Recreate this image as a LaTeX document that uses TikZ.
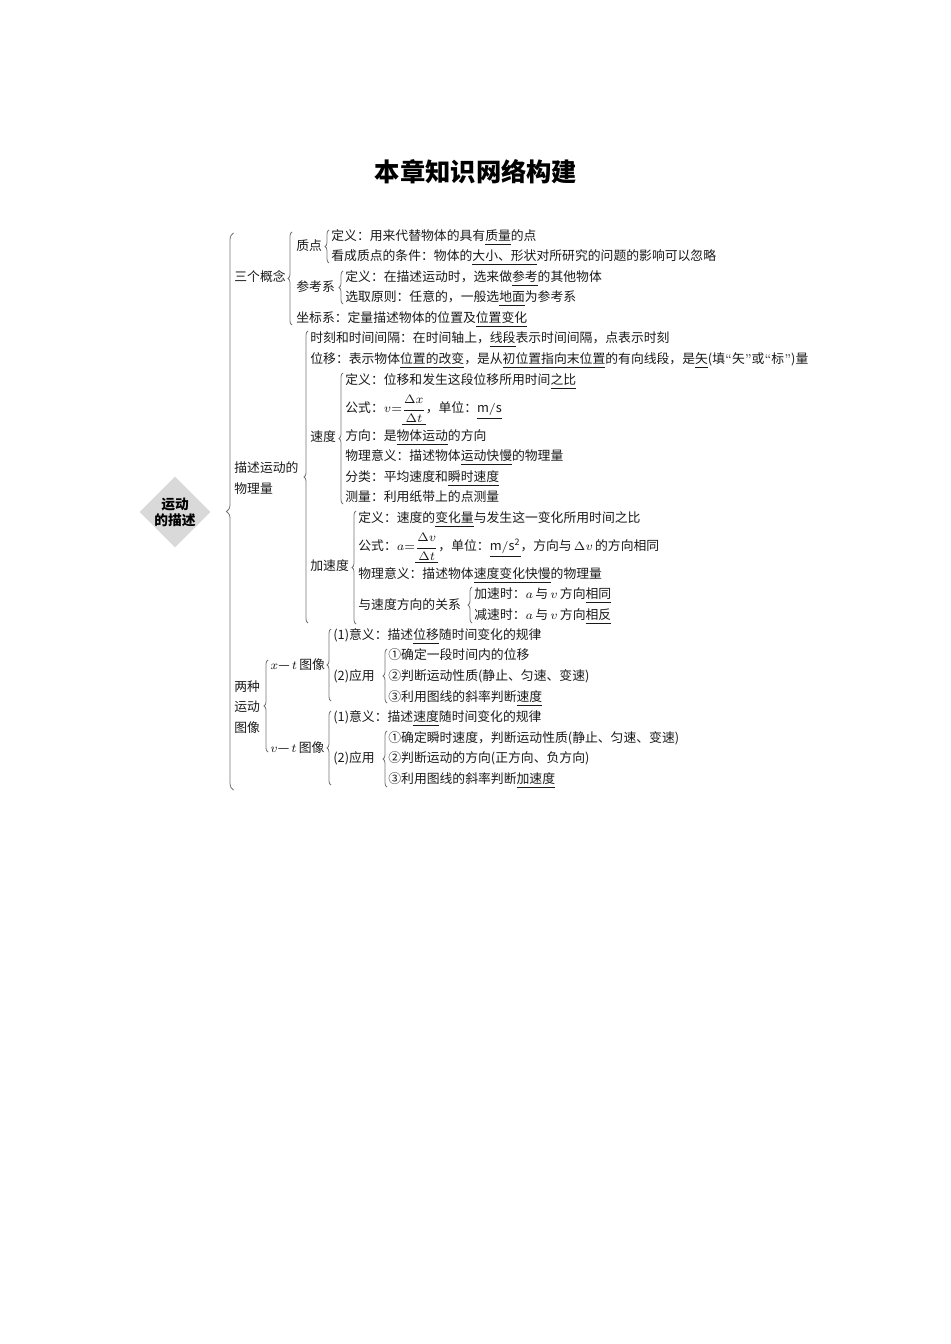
\documentclass[tikz,border=0pt]{standalone}
\usepackage{amsmath}
\usepackage{fontspec}
\setmainfont{Noto Sans CJK SC}
\newfontfamily\lmr{Latin Modern Roman}
\usepackage{tikz}
\usetikzlibrary{shapes.geometric, decorations.pathreplacing}

\newcommand{\ans}[1]{\underline{#1}}

\tikzset{
  item/.style={anchor=base west, yshift=-2.8pt, inner sep=0pt, text=black!90, font=\fontsize{7.3}{11.6}\selectfont},
  lines/.style={anchor=west, inner sep=0pt, align=left, text=black!90, font=\fontsize{7.3}{11.6}\selectfont},
  brc/.style={draw=black!55, line width=0.45pt, decorate, decoration={brace, amplitude=0.08cm}},
  bigbrc/.style={brc, decoration={brace, amplitude=0.14cm}},
}

\begin{document}
\begin{tikzpicture}[x=0.02cm, y=-0.02cm]

\useasboundingbox (0,0) rectangle (950,1344);

% Title
\node[font=\bfseries\fontsize{14.4}{16}\selectfont] (title) at (476,172) {本章知识网络构建};

% Root
\node[diamond, fill=black!15, minimum size=1.42cm, inner sep=0pt] (root) at (175,512) {};
\node[align=center, inner sep=0pt, font=\bfseries\fontsize{7.8}{9.2}\selectfont] (rootlabel) at (root.center) {运动\\的描述};

% Braces
\draw[bigbrc] (233.5,790) -- (233.5,233);
\draw[brc] (292,325) -- (292,232);
\draw[brc] (329,263) -- (329,230);
\draw[brc] (343,304) -- (343,271);
\draw[brc] (308,623) -- (308,331);
\draw[brc] (343,504) -- (343,373);
\draw[brc] (356,624) -- (356,511);
\draw[brc] (472,623) -- (472,587);
\draw[brc] (268,752) -- (268,660);
\draw[brc] (331,701) -- (331,629);
\draw[brc] (387,703) -- (387,649);
\draw[brc] (331,785) -- (331,711);
\draw[brc] (387,787) -- (387,731);

% Three concepts
\node[item] (sangai) at (234,277) {三个概念};
\node[item] (zhidian) at (296,246) {质点};
\node[item] (zd1) at (331,236) {定义：用来代替物体的具有\ans{质量}的点};
\node[item] (zd2) at (331,256) {看成质点的条件：物体的\ans{大小、形状}对所研究的问题的影响可以忽略};
\node[item] (cankao) at (296,287) {参考系};
\node[item] (ck1) at (345,277) {定义：在描述运动时，选来做\ans{参考}的其他物体};
\node[item] (ck2) at (345,297) {选取原则：任意的，一般选\ans{地面}为参考系};
\node[item] (zuobiao) at (296,318) {坐标系：定量描述物体的位置及\ans{位置变化}};

% Physical quantities
\node[lines] (wuliliang) at (234,478) {描述运动的\\物理量};
\node[item] (shike) at (310,338) {时刻和时间间隔：在时间轴上，\ans{线段}表示时间间隔，点表示时刻};
\node[item] (weiyi) at (310,359) {位移：表示物体\ans{位置的改变}，是从\ans{初位置指向末位置}的有向线段，是\ans{矢}(填{\lmr“}矢{\lmr”}或{\lmr“}标{\lmr”})量};
\node[item] (sudu) at (310,437) {速度};
\node[item] (sd1) at (345,380) {定义：位移和发生这段位移所用时间\ans{之比}};
\node[item] (sd2) at (345,408) {公式：$v{=}\underline{\dfrac{\Delta x}{\Delta t}}$，单位：\ans{$\mathrm{m/s}$}};
\node[item] (sd3) at (345,436) {方向：是\ans{物体运动}的方向};
\node[item] (sd4) at (345,456) {物理意义：描述物体\ans{运动快慢}的物理量};
\node[item] (sd5) at (345,477) {分类：平均速度和\ans{瞬时速度}};
\node[item] (sd6) at (345,497) {测量：利用纸带上的点测量};
\node[item] (jiasudu) at (310,566) {加速度};
\node[item] (jsd1) at (358,518) {定义：速度的\ans{变化量}与发生这一变化所用时间之比};
\node[item] (jsd2) at (358,546) {公式：$a{=}\underline{\dfrac{\Delta v}{\Delta t}}$，单位：\ans{$\mathrm{m/s^2}$}，方向与\,$\Delta v$\,的方向相同};
\node[item] (jsd3) at (358,574) {物理意义：描述物体\ans{速度变化快慢}的物理量};
\node[item] (guanxi) at (358,605) {与速度方向的关系};
\node[item] (gx1) at (474,594) {加速时：$a$\,与\,$v$\,方向\ans{相同}};
\node[item] (gx2) at (474,615) {减速时：$a$\,与\,$v$\,方向\ans{相反}};

% Two motion graphs
\node[lines] (tuxiang) at (234,707) {两种\\运动\\图像};
\node[item] (xt) at (270,665) {$x$—\,$t$\,图像};
\node[item] (xt1) at (333,635) {(1)意义：描述\ans{位移}随时间变化的规律};
\node[item] (xtyy) at (333,676) {(2)应用};
\node[item] (xt2a) at (388,655) {①确定一段时间内的位移};
\node[item] (xt2b) at (388,676) {②判断运动性质(静止、匀速、变速)};
\node[item] (xt2c) at (388,697) {③利用图线的斜率判断\ans{速度}};
\node[item] (vt) at (270,748) {$v$—\,$t$\,图像};
\node[item] (vt1) at (333,717) {(1)意义：描述\ans{速度}随时间变化的规律};
\node[item] (vtyy) at (333,758) {(2)应用};
\node[item] (vt2a) at (388,738) {①确定瞬时速度，判断运动性质(静止、匀速、变速)};
\node[item] (vt2b) at (388,758) {②判断运动的方向(正方向、负方向)};
\node[item] (vt2c) at (388,779) {③利用图线的斜率判断\ans{加速度}};

\end{tikzpicture}
\end{document}
